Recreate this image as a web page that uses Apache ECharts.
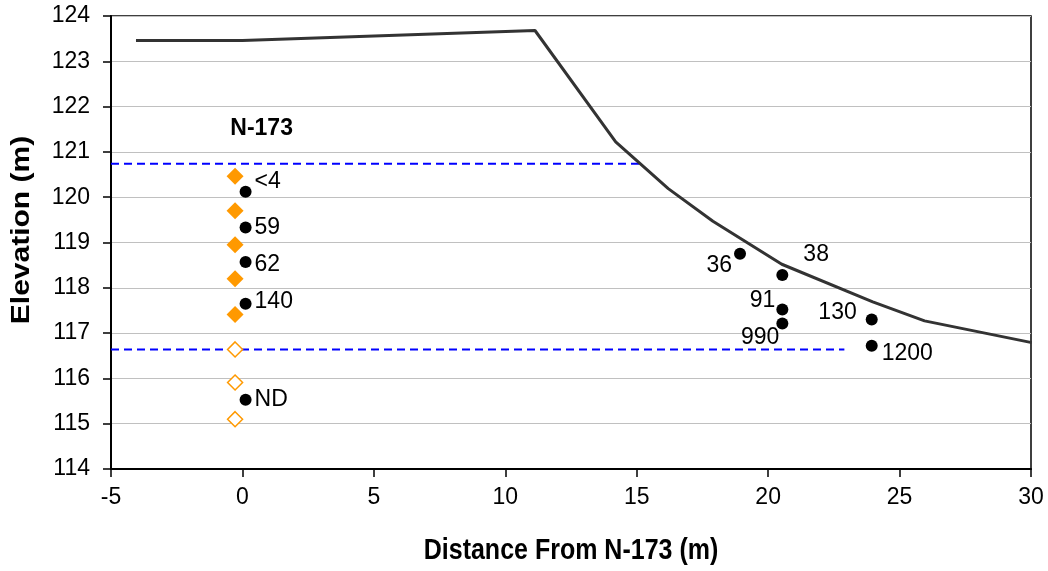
<!DOCTYPE html>
<html>
<head>
<meta charset="utf-8">
<script src="https://cdn.jsdelivr.net/npm/echarts@6/dist/echarts.min.js"></script>
<style>html,body{margin:0;padding:0;background:#fff}#c{width:1048px;height:571px}</style>
</head>
<body>
<div id="c"></div>
<script>
// Ground surface profile
const surfaceX = [-4.05, 0, 11.13, 14.2, 16.2, 17.9, 20.52, 23.98, 25.95, 30.03];
const surfaceY = [123.46, 123.46, 123.68, 121.22, 120.19, 119.47, 118.52, 117.69, 117.27, 116.79];
// Blue dashed levels
const upperLevelX = [-5, 15.2];
const upperLevelY = [120.74, 120.74];
const lowerLevelX = [-5, 22.9];
const lowerLevelY = [116.64, 116.64];
// Orange diamonds (screens)
const filledDiamondX = [-0.28, -0.28, -0.28, -0.28, -0.28];
const filledDiamondY = [120.46, 119.70, 118.95, 118.20, 117.41];
const openDiamondX = [-0.28, -0.28, -0.28];
const openDiamondY = [116.64, 115.91, 115.10];
// Sample dots with values
const dotX = [0.12, 0.12, 0.12, 0.12, 0.12, 18.93, 20.54, 20.54, 20.54, 23.94, 23.94];
const dotY = [120.12, 119.33, 118.57, 117.65, 115.53, 118.75, 118.28, 117.52, 117.21, 117.30, 116.72];
const dotLabels = ['<4', '59', '62', '140', 'ND', '36', '38', '91', '990', '130', '1200'];
// Well name
const wellName = 'N-173';
const wellNameX = 0.73;
const wellNameY = 121.51;
// Axis titles
const xTitle = 'Distance From N-173 (m)';
const yTitle = 'Elevation (m)';

// label placement (styling)
const labelPlace = [
  ['left', 9, -10], ['left', 9, 0], ['left', 9, 3], ['left', 9, -2], ['left', 9, 0],
  ['right', -8, 12], ['left', 21, -20], ['right', -7, -9], ['right', -3, 14], ['right', -15, -7], ['left', 10, 8]
];

const pairs = (xs, ys) => xs.map((x, i) => [x, ys[i]]);
const FONT = 'Liberation Sans, Arial, sans-serif';

const chart = echarts.init(document.getElementById('c'));
chart.setOption({
  animation: false,
  backgroundColor: '#fff',
  textStyle: { fontFamily: FONT },
  grid: { left: 111, right: 17, top: 16, bottom: 102, show: true, borderColor: '#000', borderWidth: 1.5, backgroundColor: 'transparent' },
  graphic: [
    { type: 'text', x: 571, y: 551, scaleY: 1.17, style: { text: xTitle, font: 'bold 25px ' + FONT, fill: '#000', align: 'center', verticalAlign: 'middle' } },
    { type: 'text', x: 22, y: 230, rotation: Math.PI / 2, scaleX: 1.2, style: { text: yTitle, font: 'bold 25px ' + FONT, fill: '#000', align: 'center', verticalAlign: 'middle' } }
  ],
  xAxis: {
    type: 'value', min: -5, max: 30, interval: 5,
    axisLine: { show: true, onZero: false, lineStyle: { color: '#000', width: 2 } },
    axisTick: { show: true, length: 8, lineStyle: { color: '#000', width: 1.5 } },
    axisLabel: { fontFamily: FONT, fontSize: 23, color: '#000', margin: 17 },
    splitLine: { show: false }
  },
  yAxis: {
    type: 'value', min: 114, max: 124, interval: 1,
    axisLine: { show: true, onZero: false, lineStyle: { color: '#000', width: 2 } },
    axisTick: { show: true, length: 8, lineStyle: { color: '#000', width: 1.5 } },
    axisLabel: { fontFamily: FONT, fontSize: 23, color: '#000', margin: 21 },
    splitLine: { show: true, lineStyle: { color: '#c0c0c0', width: 1 } }
  },
  series: [
    { type: 'line', data: pairs(upperLevelX, upperLevelY), symbol: 'none', lineStyle: { color: '#0000ff', width: 2, type: [8, 5] }, z: 2 },
    { type: 'line', data: pairs(lowerLevelX, lowerLevelY), symbol: 'none', lineStyle: { color: '#0000ff', width: 2, type: [8, 5] }, z: 2 },
    { type: 'line', data: pairs(surfaceX, surfaceY), symbol: 'none', lineStyle: { color: '#333333', width: 3 }, z: 3 },
    { type: 'scatter', data: pairs(filledDiamondX, filledDiamondY), symbol: 'diamond', symbolSize: 17, itemStyle: { color: '#ff9900', opacity: 1 }, z: 4 },
    { type: 'scatter', data: pairs(openDiamondX, openDiamondY), symbol: 'diamond', symbolSize: 15, itemStyle: { color: '#fff', borderColor: '#ff9900', borderWidth: 1.5, opacity: 1 }, z: 4 },
    {
      type: 'scatter', z: 5, symbol: 'circle', symbolSize: 12, itemStyle: { color: '#000', opacity: 1 },
      data: dotX.map((x, i) => ({
        value: [x, dotY[i]],
        label: {
          show: true, position: 'inside', formatter: dotLabels[i],
          align: labelPlace[i][0], verticalAlign: 'middle',
          offset: [labelPlace[i][1], labelPlace[i][2]],
          fontFamily: FONT, fontSize: 23, color: '#000'
        }
      }))
    },
    {
      type: 'scatter', z: 5, symbolSize: 0, itemStyle: { opacity: 1 }, data: [[wellNameX, wellNameY]],
      label: { show: true, position: 'inside', formatter: wellName, fontFamily: FONT, fontSize: 23, fontWeight: 'bold', color: '#000' }
    }
  ]
});
</script>
</body>
</html>
